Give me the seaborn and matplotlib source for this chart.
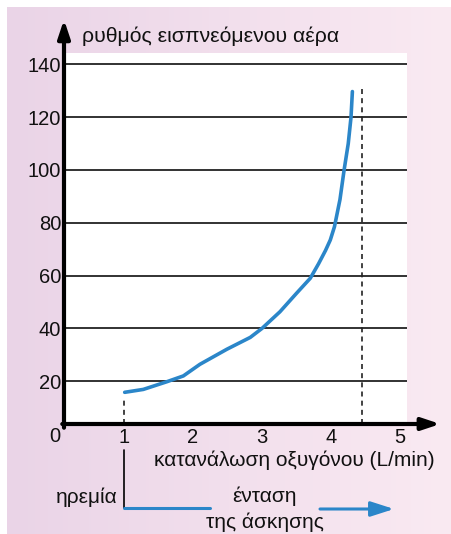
import numpy as np
import pandas as pd
import matplotlib
matplotlib.use("Agg")
import matplotlib.pyplot as plt
from matplotlib.lines import Line2D
from matplotlib.patches import FancyArrowPatch
import seaborn as sns

# ---- data ----
oxygen = [1.01, 1.28, 1.62, 1.86, 2.10, 2.49, 2.83, 3.00, 3.26, 3.50, 3.70, 3.82, 3.92, 3.99, 4.05, 4.13, 4.19, 4.25, 4.29, 4.31]
air_rate = [15.8, 16.9, 19.8, 22.0, 26.4, 32.1, 36.6, 40.0, 46.3, 53.3, 59.0, 64.5, 69.5, 73.5, 78.5, 88.8, 100.0, 110.0, 120.0, 129.7]
y_ticks = [20, 40, 60, 80, 100, 120, 140]
x_ticks = [1, 2, 3, 4, 5]
max_line_x = 4.45
max_line_top = 131
rest_x = 1.0
rest_top = 14

ylabel = "ρυθμός εισπνεόμενου αέρα"
xlabel = "κατανάλωση οξυγόνου (L/min)"
rest_label = "ηρεμία"
intensity_line1 = "ένταση"
intensity_line2 = "της άσκησης"

df = pd.DataFrame({"oxygen": oxygen, "air": air_rate})

sns.set_theme(style="white")
plt.rcParams["font.family"] = ["Liberation Sans", "DejaVu Sans"]

W, H = 452, 534
fig = plt.figure(figsize=(W / 100, H / 100), dpi=100, facecolor="white")

def fx(px):
    return px / W

def fy(py):
    return 1 - py / H

# background gradient
bg = fig.add_axes([fx(7), 0, 1 - fx(7), fy(7)])
grad = np.linspace(0, 1, 256)[None, :]
c0 = np.array([234, 212, 231]) / 255
c1 = np.array([250, 234, 242]) / 255
img = c0[None, None, :] * (1 - grad[..., None]) + c1[None, None, :] * grad[..., None]
bg.imshow(img, aspect="auto", extent=[0, 1, 0, 1])
bg.set_axis_off()

ax = fig.add_axes([fx(64), fy(424), fx(407) - fx(64), fy(53) - fy(424)])
ax.set_facecolor("white")
x0 = (64 - 55) / 69
ax.set_xlim(x0, (407 - 55) / 69)
ax.set_ylim(3.8, 144.3)

for v in y_ticks:
    ax.axhline(v, color="#222222", lw=1.3, zorder=1)

sns.lineplot(data=df, x="oxygen", y="air", ax=ax, color="#2B86C9", lw=2.6,
             estimator=None, sort=False, zorder=3)

ax.plot([max_line_x, max_line_x], [3.8, max_line_top], ls=(0, (3, 2.5)), color="#222222", lw=1.2, zorder=2)
ax.plot([rest_x, rest_x], [3.8, rest_top], ls=(0, (3, 2.5)), color="#222222", lw=1.2, zorder=2)

for s in ax.spines.values():
    s.set_visible(False)

ax.set_yticks(y_ticks)
ax.set_yticklabels([str(v) for v in y_ticks], fontsize=14.5, color="#111111")
ax.set_xticks(x_ticks)
ax.set_xticklabels([str(v) for v in x_ticks], fontsize=14.5, color="#111111")
ax.tick_params(axis="both", length=0, pad=2)
ax.tick_params(axis="x", pad=3)
ax.set_xlabel("")
ax.set_ylabel("")
ax.text(0, -0.008, "0", transform=ax.get_xaxis_transform(), ha="center", va="top", fontsize=14.5, color="#111111")

# axis arrows
ax.annotate("", xy=(0, 1.09), xytext=(0, -0.01), xycoords="axes fraction",
            arrowprops=dict(arrowstyle="-|>,head_length=0.9,head_width=0.3", lw=3, color="black",
                            shrinkA=0, shrinkB=0), annotation_clip=False)
ax.annotate("", xy=(1.097, 0), xytext=(-0.005, 0), xycoords="axes fraction",
            arrowprops=dict(arrowstyle="-|>,head_length=0.9,head_width=0.3", lw=3, color="black",
                            shrinkA=0, shrinkB=0), annotation_clip=False)

fig.text(fx(82), fy(36), ylabel, fontsize=15.3, ha="left", va="center", color="#111111")
fig.text(fx(154), fy(460), xlabel, fontsize=15, ha="left", va="center", color="#111111")

# bottom exercise intensity annotation
fig.add_artist(Line2D([fx(124), fx(124)], [fy(450), fy(508)], color="black", lw=1.2))
fig.add_artist(Line2D([fx(124), fx(210)], [fy(508), fy(508)], color="#2B86C9", lw=2.2))
fig.add_artist(FancyArrowPatch((fx(320), fy(509)), (fx(394), fy(509)), transform=fig.transFigure,
                               arrowstyle="-|>,head_length=5.6,head_width=1.8", mutation_scale=2.5,
                               color="#2B86C9", lw=2.2, shrinkA=0, shrinkB=0))
fig.text(fx(118), fy(497), rest_label, fontsize=15, ha="right", va="center", color="#111111")
fig.text(fx(265), fy(496), intensity_line1, fontsize=15, ha="center", va="center", color="#111111")
fig.text(fx(265), fy(522), intensity_line2, fontsize=15, ha="center", va="center", color="#111111")

fig.savefig("out.png", dpi=100, facecolor="white")
